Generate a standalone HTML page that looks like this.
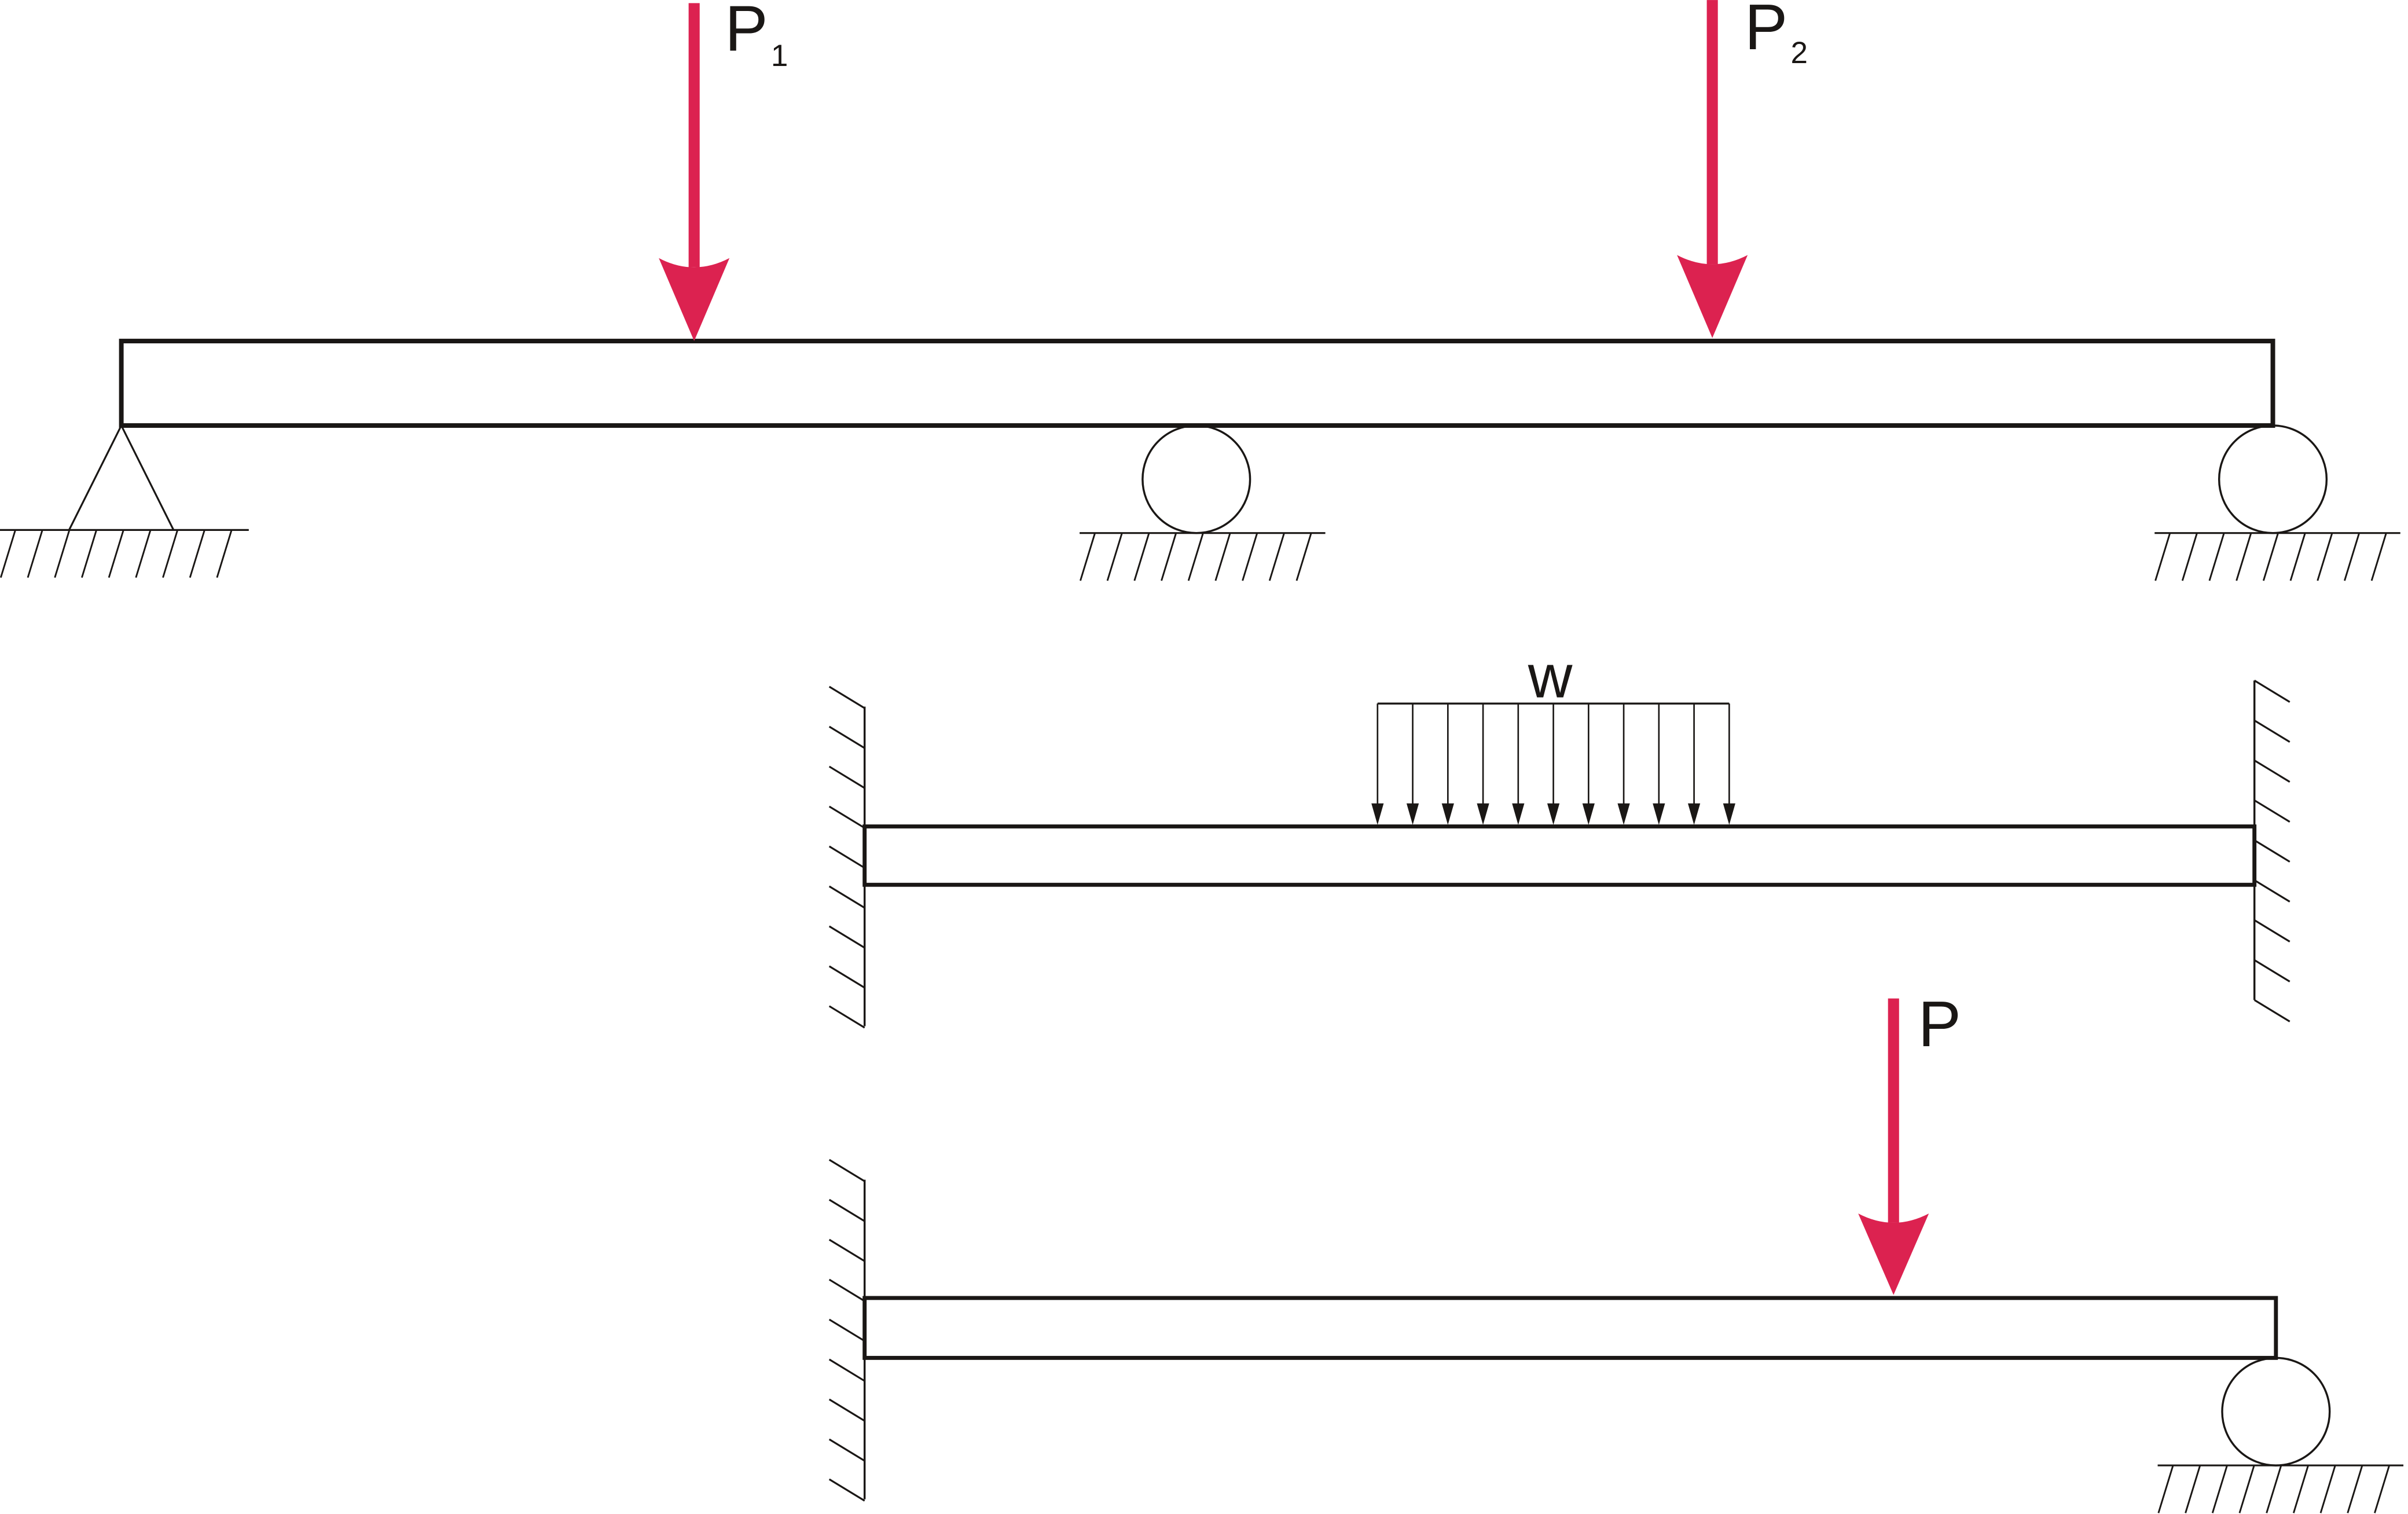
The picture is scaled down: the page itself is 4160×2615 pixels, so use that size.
<!DOCTYPE html>
<html><head><meta charset="utf-8"><style>html,body{margin:0;padding:0;background:#fff}svg{display:block}</style></head>
<body>
<svg width="4160" height="2615" viewBox="0 0 1568 985.6" xmlns="http://www.w3.org/2000/svg" font-family="Liberation Sans, sans-serif">
<g id="root" stroke="#1a1715" fill="none"></g>
</svg>
<script>
const NS='http://www.w3.org/2000/svg';
const root=document.getElementById('root');
function mk(tag,attrs,parent,name){const e=document.createElementNS(NS,tag);for(const k in attrs)e.setAttribute(k,attrs[k]);(parent||root).appendChild(e);return e;}
const RED='#dc2250';
function ground(x0,x1,y,hx0,n){mk('line',{x1:x0,y1:y,x2:x1,y2:y,'stroke-width':1.2},root,'ground-line');for(let i=0;i<n;i++){const x=hx0+i*17.6;mk('line',{x1:x,y1:y,x2:x-9.5,y2:y+31,'stroke-width':1.1},root,'ground-hatch');}}
function wall(x,y0,y1,hy0,dir,lim){mk('line',{x1:x,y1:y0,x2:x,y2:y1,'stroke-width':1.3},root,'fixed-wall');for(let y=hy0;y<=lim;y+=26){if(dir<0)mk('line',{x1:x-23,y1:y,x2:x,y2:y+14,'stroke-width':1.2},root,'wall-hatch');else mk('line',{x1:x,y1:y,x2:x+23,y2:y+14,'stroke-width':1.2},root,'wall-hatch');}}
function force(x,yTop,yHead,yTip){mk('rect',{x:x-3.6,y:yTop,width:7.2,height:yHead+6-yTop,fill:RED,stroke:'none'},root,'force-shaft');mk('path',{d:`M${x-23},${yHead} Q${x},${yHead+12} ${x+23},${yHead} L${x},${yTip} Z`,fill:RED,stroke:'none'},root,'force-arrowhead');}
function txt(x,y,s,size,name){const t=mk('text',{x:x,y:y,'font-size':size,fill:'#1a1715',stroke:'none'},root,name);t.textContent=s;return t;}
// Beam 1
mk('rect',{x:79,y:222,width:1401,height:55,'stroke-width':3},root,'beam-1');
mk('path',{d:'M45,345 L79,277 L113,345','stroke-width':1.2},root,'pin-support');
ground(0,162,345,10,9);
mk('circle',{cx:779,cy:312,r:35,'stroke-width':1.3},root,'roller-support-middle');
ground(703,863,347,713,9);
mk('circle',{cx:1480,cy:312,r:35,'stroke-width':1.3},root,'roller-support-right');
ground(1403,1563,347,1413,9);
force(452,2,168,222);
txt(472,33,'P',42,'label-p1');txt(502,43,'1',20,'label-p1-subscript');
force(1115,0,166,220);
txt(1136,32,'P',42,'label-p2');txt(1166,41,'2',20,'label-p2-subscript');
// Beam 2
mk('rect',{x:563,y:538,width:905,height:38,'stroke-width':2.6},root,'beam-2');
wall(563,460,668,447,-1,655);
wall(1468,443,651,443,1,651);
mk('line',{x1:897,y1:458,x2:1126,y2:458,'stroke-width':1.3},root,'distributed-load-line');
for(let i=0;i<11;i++){const x=897+i*22.9;mk('line',{x1:x,y1:458,x2:x,y2:528,'stroke-width':1},root,'load-arrow-shaft');mk('path',{d:`M${x-4},523 L${x+4},523 L${x},537 Z`,fill:'#1a1715',stroke:'none'},root,'load-arrowhead');}
txt(995,454,'w',40,'label-w');
// Beam 3
mk('rect',{x:563,y:845,width:919,height:39,'stroke-width':2.6},root,'beam-3');
wall(563,768,976,755,-1,965);
force(1233,650,790,843);
txt(1249,681,'P',42,'label-p');
mk('circle',{cx:1482,cy:919,r:35,'stroke-width':1.3},root,'roller-support-beam-3');
ground(1405,1565,954,1415,9);
</script>
</body></html>
